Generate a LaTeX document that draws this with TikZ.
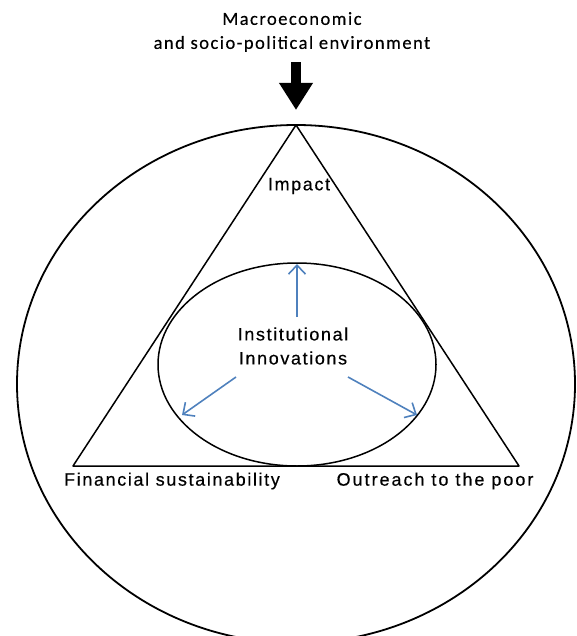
\documentclass[tikz,border=0pt]{standalone}
\usepackage{fontspec}
\setmainfont{Liberation Sans}[LetterSpace=9,FakeBold=0.4]
\newfontfamily\topfont{Carlito}[LetterSpace=8,FakeBold=0.4]
\usetikzlibrary{arrows.meta}
\definecolor{arrowblue}{HTML}{4F81BD}
\begin{document}
\begin{tikzpicture}[x=1pt,y=-1pt,
  outline/.style={draw=black,line width=1.6pt},
  caption/.style={font=\fontsize{18}{24}\selectfont,inner sep=0pt,align=center},
  link/.style={draw=arrowblue,line width=1.6pt,-{Straight Barb[length=9pt,width=17pt]}},
  bigarrow/.style={draw=black,line width=10pt,-{Triangle[length=27pt,width=32pt]}}]
\useasboundingbox (0,0) rectangle (576,636);
% outer environment ellipse (runs off the lower edge)
\begin{scope}
  \clip (0,0) rectangle (576,636);
  \draw[outline,line width=1.8pt] (296,384) ellipse [x radius=279, y radius=259];
\end{scope}
% triangle corners
\coordinate (apex) at (296,125);
\coordinate (baseL) at (73,466);
\coordinate (baseR) at (519,466);
\draw[outline,line width=1.5pt,line join=round] (apex) -- (baseL) -- (baseR) -- cycle;
% inner ellipse
\draw[outline,line width=1.5pt] (297,364.5) ellipse [x radius=139, y radius=101.5];
% labels
\node[caption,font=\topfont\fontsize{18.5}{24}\selectfont] (env) at (292,32)
  {Macroeconomic\\and socio-political environment};
\node[caption] (impact) at (299,186) {Impact};
\node[caption] (innov) at (293,346) {Institutional\\Innovations};
\node[caption] (fin) at (172,481) {Financial sustainability};
\node[caption,xshift=-1pt] (out) at (436,481) {\addfontfeatures{LetterSpace=11}Outreach to the poor};
% environment pressing on the apex
\draw[bigarrow,shorten <=10pt,shorten >=15pt] (env.south -| apex) -- (apex);
% innovations feeding the three corners
\coordinate (upTip) at (297,264);
\coordinate (leftFrom) at (236,377);
\coordinate (leftTip) at (182,415);
\coordinate (rightFrom) at (348,377);
\coordinate (rightTip) at (417,415);
\draw[link,shorten <=10pt] (innov.north -| upTip) -- (upTip);
\draw[link] (leftFrom) -- (leftTip);
\draw[link] (rightFrom) -- (rightTip);
\end{tikzpicture}
\end{document}
